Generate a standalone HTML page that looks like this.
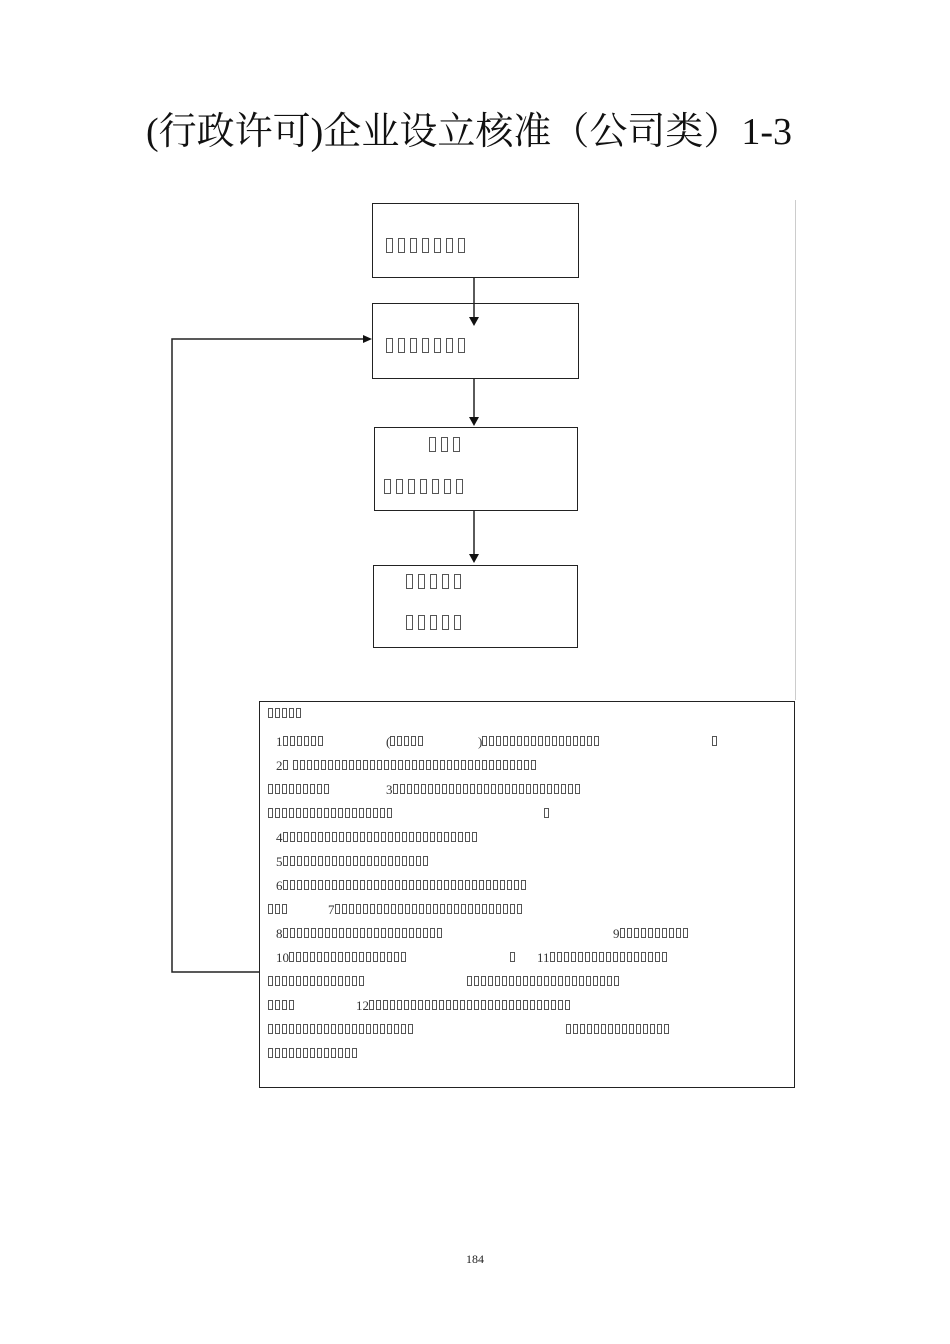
<!DOCTYPE html>
<html><head><meta charset="utf-8"><style>
body{margin:0;width:950px;height:1344px;background:#fff;position:relative;overflow:hidden}
.a{position:absolute}
.b{position:absolute;border:1.3px solid #222;box-sizing:border-box}
.t{position:absolute;font-family:"Liberation Serif",serif;color:#333;white-space:pre;line-height:1}
.q{display:inline-block;box-sizing:border-box;border:1px solid #555;vertical-align:baseline}
.bx{font-size:15px}
.bx .q{width:7px;height:15px;margin-right:5px}
.n{font-size:13px}
.n .q{width:5px;height:10px;margin-right:2px}
</style></head><body>
<div class="a" style="left:-6px;width:950px;top:100px;text-align:center;font-family:'Liberation Serif','Noto Serif CJK SC',serif;font-size:38px;color:#111">(行政许可)企业设立核准（公司类）1-3</div>

<div class="b" style="left:372px;top:203px;width:207px;height:75px"></div>
<div class="b" style="left:372px;top:303px;width:207px;height:76px"></div>
<div class="b" style="left:374px;top:427px;width:204px;height:84px"></div>
<div class="b" style="left:373px;top:565px;width:205px;height:83px"></div>
<div class="b" style="left:259px;top:701px;width:536px;height:387px"></div>
<div class="a" style="left:795px;top:200px;width:1px;height:500px;background:#ccc"></div>

<div class="t bx" style="left:386px;top:238px">▯▯▯▯▯▯▯</div>
<div class="t bx" style="left:386px;top:338px">▯▯▯▯▯▯▯</div>
<div class="t bx" style="left:429px;top:437px">▯▯▯</div>
<div class="t bx" style="left:384px;top:479px">▯▯▯▯▯▯▯</div>
<div class="t bx" style="left:406px;top:574px">▯▯▯▯▯</div>
<div class="t bx" style="left:406px;top:615px">▯▯▯▯▯</div>

<svg class="a" style="left:0;top:0" width="950" height="1344">
<g stroke="#222" stroke-width="1.5" fill="none">
<line x1="474" y1="277" x2="474" y2="318"/>
<line x1="474" y1="378" x2="474" y2="418"/>
<line x1="474" y1="511" x2="474" y2="555"/>
<polyline points="259,972 172,972 172,339 364,339"/>
</g>
<g fill="#111">
<polygon points="469,317 479,317 474,326"/>
<polygon points="469,417 479,417 474,426"/>
<polygon points="469,554 479,554 474,563"/>
<polygon points="363,335 363,343 372,339"/>
</g>
</svg>

<div class="t n" style="left:268px;top:707px">▯▯▯▯▯</div>
<div class="t n" style="left:276px;top:735px">1▯▯▯▯▯▯</div>
<div class="t n" style="left:386px;top:735px">(▯▯▯▯▯</div>
<div class="t n" style="left:478px;top:735px">)▯▯▯▯▯▯▯▯▯▯▯▯▯▯▯▯▯</div>
<div class="t n" style="left:712px;top:735px">▯</div>
<div class="t n" style="left:276px;top:759px">2▯ ▯▯▯▯▯▯▯▯▯▯▯▯▯▯▯▯▯▯▯▯▯▯▯▯▯▯▯▯▯▯▯▯▯▯▯</div>
<div class="t n" style="left:268px;top:783px">▯▯▯▯▯▯▯▯▯</div>
<div class="t n" style="left:386px;top:783px">3▯▯▯▯▯▯▯▯▯▯▯▯▯▯▯▯▯▯▯▯▯▯▯▯▯▯▯</div>
<div class="t n" style="left:268px;top:807px">▯▯▯▯▯▯▯▯▯▯▯▯▯▯▯▯▯▯</div>
<div class="t n" style="left:544px;top:807px">▯</div>
<div class="t n" style="left:276px;top:831px">4▯▯▯▯▯▯▯▯▯▯▯▯▯▯▯▯▯▯▯▯▯▯▯▯▯▯▯▯</div>
<div class="t n" style="left:276px;top:855px">5▯▯▯▯▯▯▯▯▯▯▯▯▯▯▯▯▯▯▯▯▯</div>
<div class="t n" style="left:276px;top:879px">6▯▯▯▯▯▯▯▯▯▯▯▯▯▯▯▯▯▯▯▯▯▯▯▯▯▯▯▯▯▯▯▯▯▯▯</div>
<div class="t n" style="left:268px;top:903px">▯▯▯</div>
<div class="t n" style="left:328px;top:903px">7▯▯▯▯▯▯▯▯▯▯▯▯▯▯▯▯▯▯▯▯▯▯▯▯▯▯▯</div>
<div class="t n" style="left:276px;top:927px">8▯▯▯▯▯▯▯▯▯▯▯▯▯▯▯▯▯▯▯▯▯▯▯</div>
<div class="t n" style="left:613px;top:927px">9▯▯▯▯▯▯▯▯▯▯</div>
<div class="t n" style="left:276px;top:951px">10▯▯▯▯▯▯▯▯▯▯▯▯▯▯▯▯▯</div>
<div class="t n" style="left:510px;top:951px">▯</div>
<div class="t n" style="left:537px;top:951px">11▯▯▯▯▯▯▯▯▯▯▯▯▯▯▯▯▯</div>
<div class="t n" style="left:268px;top:975px">▯▯▯▯▯▯▯▯▯▯▯▯▯▯</div>
<div class="t n" style="left:467px;top:975px">▯▯▯▯▯▯▯▯▯▯▯▯▯▯▯▯▯▯▯▯▯▯</div>
<div class="t n" style="left:268px;top:999px">▯▯▯▯</div>
<div class="t n" style="left:356px;top:999px">12▯▯▯▯▯▯▯▯▯▯▯▯▯▯▯▯▯▯▯▯▯▯▯▯▯▯▯▯▯</div>
<div class="t n" style="left:268px;top:1023px">▯▯▯▯▯▯▯▯▯▯▯▯▯▯▯▯▯▯▯▯▯</div>
<div class="t n" style="left:566px;top:1023px">▯▯▯▯▯▯▯▯▯▯▯▯▯▯▯</div>
<div class="t n" style="left:268px;top:1047px">▯▯▯▯▯▯▯▯▯▯▯▯▯</div>

<div class="a" style="left:0;width:950px;top:1252px;text-align:center;font-family:'Liberation Serif',serif;font-size:12px;color:#222">184</div>
<script>
document.querySelectorAll('.t').forEach(function(el){
  el.innerHTML=el.textContent.replace(/▯/g,'<span class="q"></span>');
});
</script>
</body></html>
